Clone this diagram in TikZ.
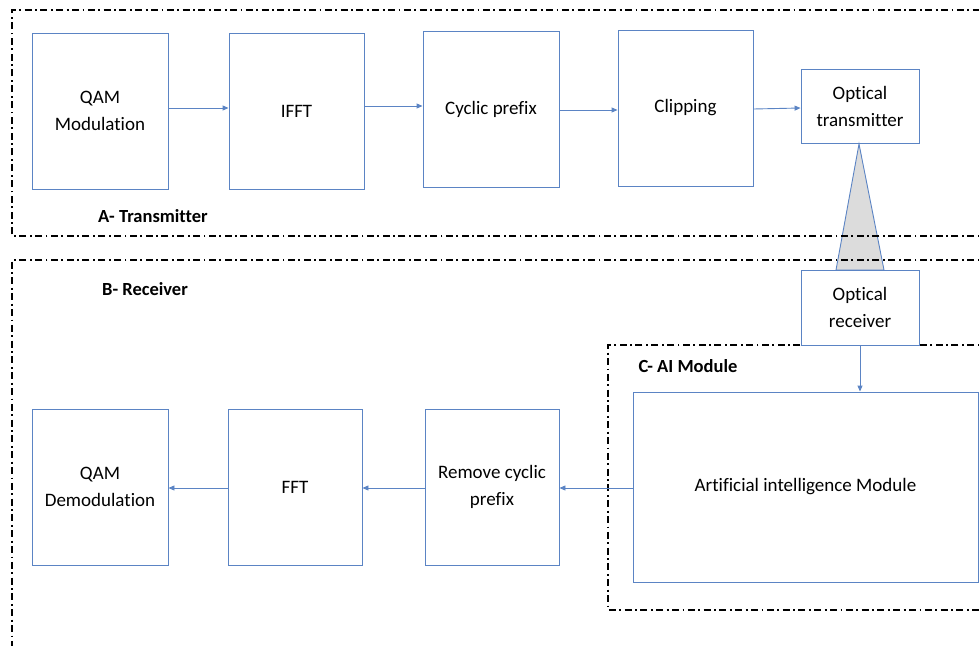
\documentclass[tikz,border=0pt]{standalone}
\usepackage{fontspec}
\setmainfont{Carlito}[Ligatures=NoCommon]
\usetikzlibrary{arrows.meta}
\definecolor{boxblue}{HTML}{5B84C4}
\definecolor{beamgray}{HTML}{DCDCDC}
\tikzset{
  blk/.style={draw=boxblue, line width=0.9pt, fill=white, align=center,
    inner sep=0pt, font=\fontsize{19}{27}\selectfont},
  link/.style={draw=boxblue, line width=0.9pt, -{Triangle[length=6pt,width=5pt]}},
  region/.style={draw=black, line width=1.3pt,
    dash pattern=on 7pt off 3.5pt on 1.8pt off 3.5pt},
  tag/.style={font=\bfseries\fontsize{18.5}{22}\selectfont, inner sep=0pt}
}
\begin{document}
\begin{tikzpicture}[x=1pt,y=-1pt]
\useasboundingbox (0,0) rectangle (979,645);
\clip (0,0) rectangle (979,645);

% transmitter chain
\node[blk, minimum width=136pt, minimum height=156pt] (qam) at (100,111) {QAM\\Modulation};
\node[blk, minimum width=135pt, minimum height=156pt] (ifft) at (296.5,111) {IFFT};
\node[blk, minimum width=136pt, minimum height=156pt] (cp) at (491,109) {Cyclic prefix};
\node[blk, minimum width=135pt, minimum height=156pt] (clip) at (685.5,108) {Clipping};
\node[blk, minimum width=118pt, minimum height=74pt] (otx) at (860,106) {Optical\\transmitter};

% optical beam between transmitter and receiver
\coordinate (apex) at (859,144);
\coordinate (bl) at (836,270);
\coordinate (br) at (884,270);
\draw[boxblue, line width=0.9pt, fill=beamgray] (apex) -- (bl) -- (br) -- cycle;

% dash-dotted region frames
\draw[region] (990,236) -- (12,236) -- (12,10) -- (990,10);
\draw[region] (990,260) -- (12,260) -- (12,660);
\draw[region] (990,345) -- (608,345) -- (608,610) -- (990,610);

% receiver chain
\node[blk, minimum width=118pt, minimum height=75pt] (orx) at (860,307.5) {Optical\\receiver};
\node[blk, minimum width=345pt, minimum height=190pt] (ai) at (805.5,487) {Artificial intelligence Module};
\node[blk, minimum width=134pt, minimum height=156pt] (rcp) at (492,487) {Remove cyclic\\prefix};
\node[blk, minimum width=134pt, minimum height=156pt] (fft) at (295,487) {FFT};
\node[blk, minimum width=136pt, minimum height=156pt] (qamd) at (100,487) {QAM\\Demodulation};

% region titles
\node[tag] (ta) at (153,216) {A- Transmitter};
\node[tag] (tb) at (145,289) {B- Receiver};
\node[tag] (tc) at (688,366) {C- AI Module};

% signal flow
\draw[link] (qam.east |- 0,108) -- (ifft.west |- 0,108);
\draw[link] (ifft.east |- 0,106) -- (cp.west |- 0,106);
\draw[link] (cp.east |- 0,110) -- (clip.west |- 0,110);
\draw[link] (clip.east |- 0,109) -- (otx.west |- 0,108);
\draw[link] (orx.south) -- (ai.north -| orx.south);
\draw[link] (ai.west |- 0,488) -- (rcp.east |- 0,488);
\draw[link] (rcp.west |- 0,488) -- (fft.east |- 0,488);
\draw[link] (fft.west |- 0,488) -- (qamd.east |- 0,488);
\end{tikzpicture}
\end{document}
